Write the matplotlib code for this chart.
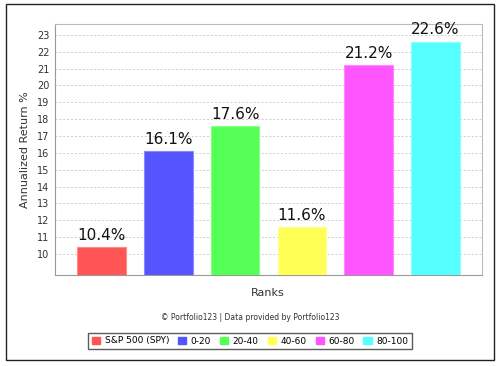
import numpy as np
import matplotlib.pyplot as plt
from matplotlib.patches import Rectangle

# data
ranks = ["S&P 500 (SPY)", "0-20", "20-40", "40-60", "60-80", "80-100"]
returns = [10.4, 16.1, 17.6, 11.6, 21.2, 22.6]
colors = ["#FF5555", "#5555FF", "#55FF55", "#FFFF55", "#FF55FF", "#55FFFF"]
edges = ["#FF8888", "#8888FF", "#88FF88", "#FFFF99", "#FF88FF", "#88FFFF"]
yticks = list(range(10, 24))

fig = plt.figure(figsize=(5, 3.66), dpi=100)
fig.patches.append(Rectangle((6/500, 1-360/366), 488/500, 356/366, transform=fig.transFigure,
                             fill=False, edgecolor="#222222", linewidth=1.0))

ax = fig.add_axes([55/500, 1-275/366, 427/500, 251/366])
ymin = 8.75
x = np.arange(len(ranks))
bars = ax.bar(x, np.array(returns) - ymin, bottom=ymin, width=0.73,
              color=colors, edgecolor=edges, linewidth=0.8, zorder=3)
for xi, v in zip(x, returns):
    ax.text(xi, v + 0.25, f"{v}%", ha="center", va="bottom", fontsize=11, color="#111111")

ax.set_xlim(-0.696, 5.696)
ax.set_ylim(ymin, 23.65)
ax.set_yticks(yticks)
ax.set_xticks([])
ax.tick_params(axis="y", length=0, labelsize=7, colors="#333333", pad=4)
ax.grid(axis="y", linestyle=(0, (2, 2)), color="#CCCCCC", linewidth=0.7, zorder=0)
for s in ax.spines.values():
    s.set_color("#BBBBBB")
ax.spines["left"].set_color("#999999")
ax.spines["bottom"].set_color("#999999")
ax.set_ylabel("Annualized Return %", fontsize=8, color="#333333", labelpad=5)

fig.text(268/500, 1-293/366, "Ranks", ha="center", va="center", fontsize=8, color="#333333")
fig.text(250/500, 1-317/366, "© Portfolio123 | Data provided by Portfolio123",
         ha="center", va="center", fontsize=5.5, color="#333333")

handles = [Rectangle((0, 0), 1, 1, color=c) for c in colors]
leg = fig.legend(handles, ranks, loc="center", bbox_to_anchor=(250/500, 1-341/366), ncol=6,
                 fontsize=6.5, frameon=True, fancybox=False, handlelength=0.9, handleheight=0.9,
                 handletextpad=0.5, columnspacing=1.0, borderpad=0.4, borderaxespad=0)
leg.get_frame().set_edgecolor("#333333")
leg.get_frame().set_linewidth(1.0)

fig.savefig("out.png", dpi=100)
